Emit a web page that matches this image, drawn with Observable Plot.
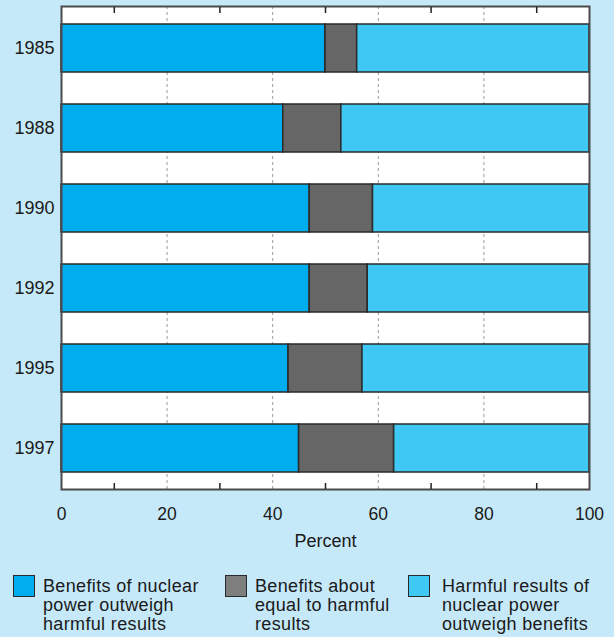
<!DOCTYPE html>
<html><head><meta charset="utf-8">
<script src="https://cdn.jsdelivr.net/npm/d3@7"></script>
<script src="https://cdn.jsdelivr.net/npm/@observablehq/plot@0.6"></script>
<style>
html,body{margin:0;padding:0;background:#c6e9f9;}
body{width:614px;height:637px;overflow:hidden;font-family:"Liberation Sans",Arial,sans-serif;}
#chart svg{display:block;}
#legend{position:relative;height:77px;}
.item{position:absolute;top:15px;display:flex;align-items:flex-start;}
.sw{width:20px;height:20px;border:1.5px solid #2a2a2a;flex:none;}
.lab{font-size:18px;letter-spacing:0.35px;line-height:19px;color:#1a1a1a;margin-top:2px;}
</style></head><body><div id="chart"></div><div id="legend"></div>
<script>
const years = ["1985", "1988", "1990", "1992", "1995", "1997"];
const benefits = [50, 42, 47, 47, 43, 45];
const equal = [6, 11, 12, 11, 14, 18];
const harmful = [44, 47, 41, 42, 43, 37];
const categories = [
  "Benefits of nuclear power outweigh harmful results",
  "Benefits about equal to harmful results",
  "Harmful results of nuclear power outweigh benefits"
];
const legendLines = [
  ["Benefits of nuclear", "power outweigh", "harmful results"],
  ["Benefits about", "equal to harmful", "results"],
  ["Harmful results of", "nuclear power", "outweigh benefits"]
];
const xTicks = [0, 20, 40, 60, 80, 100];
const gridTicks = [20, 40, 60, 80];
const minorTicks = [10, 30, 50, 70, 90];

const barColors = ["#00aeef", "#666666", "#40c8f4"];
const swatchColors = ["#00aeef", "#7e7e7f", "#40c8f4"];

const series = [benefits, equal, harmful];
const rows = years.flatMap((y, i) => series.map((s, k) => ({year: y, cat: categories[k], value: s[i]})));

const chart = Plot.plot({
  width: 614,
  height: 560,
  marginTop: 6,
  marginBottom: 71,
  marginLeft: 61,
  marginRight: 25,
  style: {fontFamily: "Liberation Sans, Arial, sans-serif", fontSize: "17px", color: "#1a1a1a", background: "transparent"},
  x: {domain: [0, 100]},
  y: {domain: years, paddingInner: 0.4, paddingOuter: 0.2},
  color: {domain: categories, range: barColors},
  marks: [
    Plot.frame({fill: "white", stroke: null}),
    Plot.ruleX(gridTicks, {stroke: "#9a9a9a", strokeDasharray: "3,3", strokeWidth: 1}),
    Plot.barX(rows, Plot.stackX({x: "value", y: "year", fill: "cat", stroke: "#2a2a2a", strokeWidth: 1.5, order: null})),
    Plot.frame({stroke: "#4a4a4a", strokeWidth: 2}),
    Plot.axisX(minorTicks, {anchor: "top", tickSize: 6, dy: 6, fill: "none", stroke: "#222", strokeWidth: 1.5, label: null}),
    Plot.axisX(minorTicks, {anchor: "bottom", tickSize: 6, dy: -6, fill: "none", stroke: "#222", strokeWidth: 1.5, label: null}),
    Plot.axisX(xTicks, {anchor: "bottom", tickSize: 0, tickPadding: 18, fontSize: 17.5, label: null}),
    Plot.text(["Percent"], {frameAnchor: "bottom", lineAnchor: "middle", dy: 52, fontSize: 18, letterSpacing: 0.35, fill: "#1a1a1a"}),
    Plot.axisY({tickSize: 0, tickPadding: 7, fontSize: 18, label: null})
  ]
});
document.getElementById("chart").appendChild(chart);

const legend = document.getElementById("legend");
const lefts = [13, 225, 408];
const gaps = [8, 8, 12];
categories.forEach((c, i) => {
  const item = document.createElement("div");
  item.className = "item";
  item.style.left = lefts[i] + "px";
  const sw = document.createElement("div");
  sw.className = "sw";
  sw.style.background = swatchColors[i];
  sw.style.marginRight = gaps[i] + "px";
  const lab = document.createElement("div");
  lab.className = "lab";
  lab.innerHTML = legendLines[i].join("<br>");
  item.appendChild(sw);
  item.appendChild(lab);
  legend.appendChild(item);
});
</script>
</body></html>
